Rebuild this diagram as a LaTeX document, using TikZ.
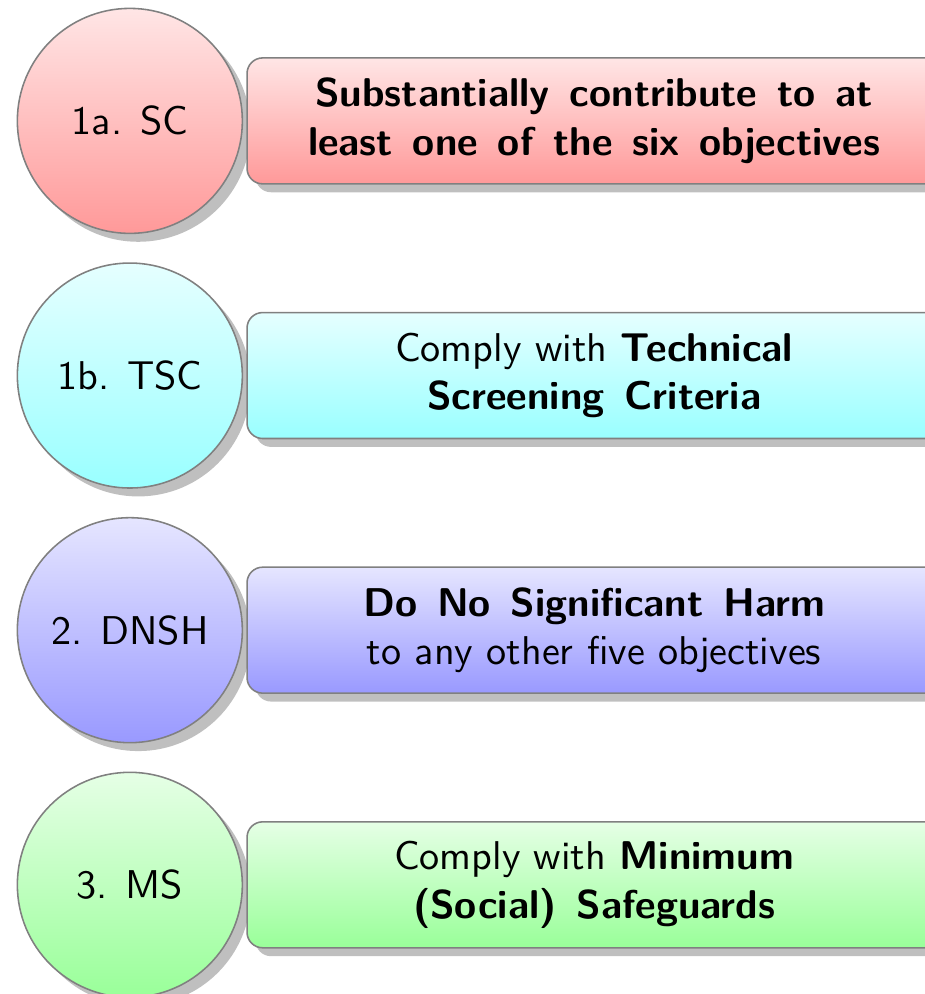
\documentclass[tikz,border=0pt]{standalone}
\usepackage{tikz}
\usetikzlibrary{positioning,shadows}

\begin{document}
% a little more room between the bold words
{\fontsize{10.3}{12.5}\selectfont\sffamily\bfseries\fontdimen2\font=5.1pt}
\begin{tikzpicture}[font=\fontsize{10.3}{12.5}\selectfont\sffamily,
  stage/.style={circle,draw=gray,minimum size=57.7pt,inner sep=0pt,drop shadow,top color=#1!10,bottom color=#1!40},
  rule/.style={rectangle,rounded corners=4pt,draw=gray,minimum width=178pt,minimum height=32.3pt,align=center,drop shadow,top color=#1!10,bottom color=#1!40}]
\useasboundingbox (-33.3pt,31pt) rectangle (203.9pt,-223.9pt);
% Stages
\node [stage=red] (sc) at (0,0) {1a. SC};
\node [stage=cyan, below=7.2pt of sc] (tsc) {1b. TSC};
\node [stage=blue, below=7.2pt of tsc] (dnsh) {2. DNSH};
\node [stage=green, below=7.2pt of dnsh] (ms) {3. MS};
% Criteria
\node [rule=red, right=0.8pt of sc] (scbox) {\bfseries Substantially contribute to at\\ \bfseries least one of the six objectives};
\node [rule=cyan, right=0.8pt of tsc] (tscbox) {Comply with \textbf{Technical}\\ \textbf{Screening Criteria}};
\node [rule=blue, right=0.8pt of dnsh] (dnshbox) {\textbf{Do No Significant Harm}\\ to any other five objectives};
\node [rule=green, right=0.8pt of ms] (msbox) {Comply with \textbf{Minimum}\\ \textbf{(Social) Safeguards}};
\end{tikzpicture}
\end{document}
